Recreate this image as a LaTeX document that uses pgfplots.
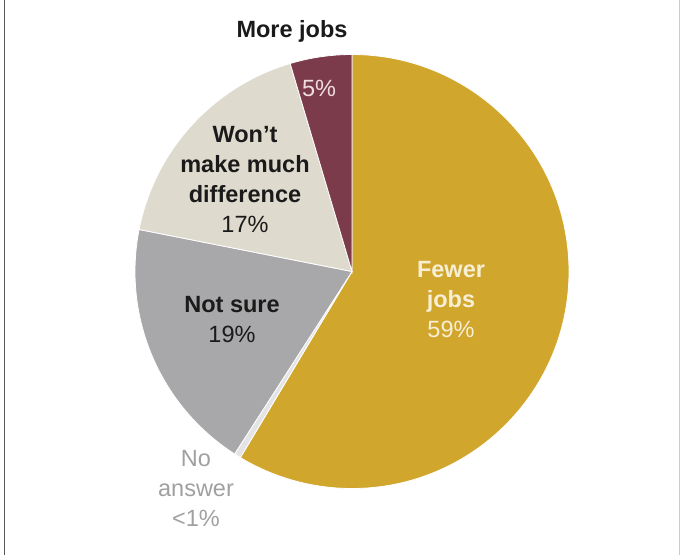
\documentclass[border=0pt]{standalone}
\usepackage{pgfplots}
\pgfplotsset{compat=1.18}
\usepackage{pgfplotstable}
\usepackage{fontspec}
\setmainfont{Liberation Sans}
\definecolor{fewer}{HTML}{D1A62D}
\definecolor{more}{HTML}{7B3B4B}
\definecolor{wont}{HTML}{DEDACD}
\definecolor{notsure}{HTML}{A8A8AA}
\definecolor{noans}{HTML}{E4E4E4}
\definecolor{lbl}{HTML}{1A1A1A}
\definecolor{noanstext}{HTML}{A0A0A0}
\definecolor{creamtext}{HTML}{F7EED6}
\definecolor{pinktext}{HTML}{F0DDE2}
\pgfplotstableread{
name value color
Fewer 58.6 fewer
NoAnswer 0.5 noans
NotSure 19.0 notsure
Wont 17.3 wont
More 4.6 more
}\piedata
\begin{document}
\begin{tikzpicture}
\begin{axis}[
  width=680bp, height=554bp, scale only axis,
  xmin=0, xmax=680, ymin=0, ymax=554,
  hide axis, clip=false,
]
\path (axis cs:0,0) rectangle (axis cs:680,554);
\draw[gray!70!black, line width=1bp] (axis cs:4.5,0) -- (axis cs:4.5,554);
\draw[gray!40, line width=0.8bp] (axis cs:679,0) -- (axis cs:679,554);
\pgfplotstablegetrowsof{\piedata}
\pgfmathtruncatemacro{\nrows}{\pgfplotsretval-1}
\def\angstart{90}
\pgfplotsforeachungrouped \i in {0,...,\nrows}{%
  \pgfplotstablegetelem{\i}{value}\of{\piedata}%
  \let\val\pgfplotsretval
  \pgfplotstablegetelem{\i}{color}\of{\piedata}%
  \let\col\pgfplotsretval
  \pgfmathsetmacro{\angend}{\angstart-3.6*\val}%
  \edef\temp{\noexpand\fill[\col, draw=white, line width=0.8bp] (axis cs:352,283) -- ([shift={(\angstart:217bp)}]axis cs:352,283) arc[start angle=\angstart, end angle=\angend, radius=217bp] -- cycle;}%
  \temp
  \global\let\angstart\angend
}
\tikzset{lab/.style={align=center, font=\fontsize{23.5bp}{30bp}\selectfont, inner sep=0pt}}
\node[lab, text=lbl, font=\fontsize{23.5bp}{30bp}\selectfont\bfseries] at (axis cs:292,523) {More jobs};
\node[lab, text=pinktext] at (axis cs:319,466) {5\%};
\node[lab, text=lbl, anchor=north] at (axis cs:245,428) {\textbf{Won’t}\\\textbf{make much}\\\textbf{difference}\\17\%};
\node[lab, text=lbl, anchor=north] at (axis cs:232,258) {\textbf{Not sure}\\19\%};
\node[lab, text=creamtext, anchor=north] at (axis cs:451,293) {\textbf{Fewer}\\\textbf{jobs}\\59\%};
\node[lab, text=noanstext, anchor=north] at (axis cs:196,104) {No\\answer\\<1\%};
\end{axis}
\end{tikzpicture}
\end{document}
